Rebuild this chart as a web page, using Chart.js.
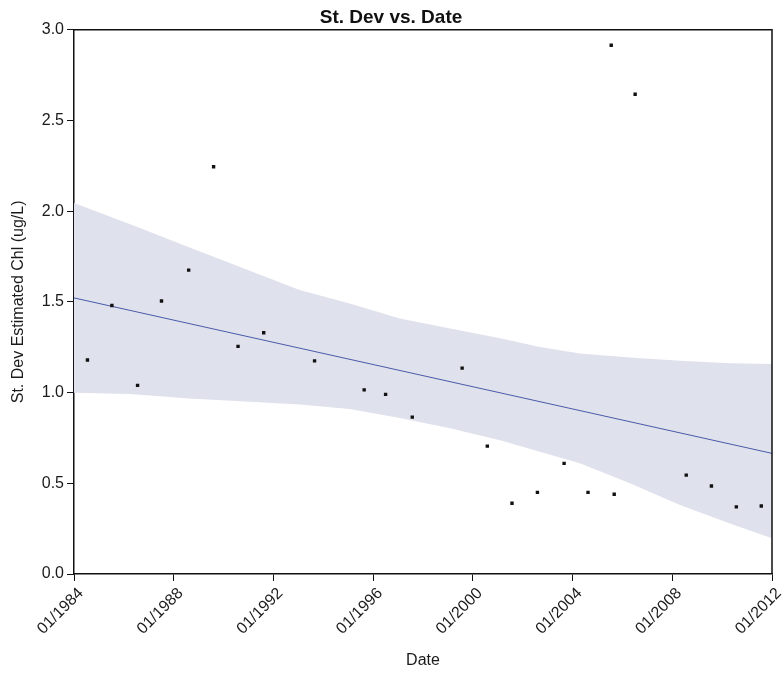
<!DOCTYPE html>
<html>
<head>
<meta charset="utf-8">
<title>St. Dev vs. Date</title>
<script src="https://cdn.jsdelivr.net/npm/chart.js@4.4.1/dist/chart.umd.min.js"></script>
<style>
  html, body { margin: 0; padding: 0; background: #fff; }
  #stdevChart { display: block; }
</style>
</head>
<body>
<canvas id="stdevChart" width="782" height="673"></canvas>
<script>
// sampling dates (decimal years) and their st. dev of estimated chl
const sampleYears = [1984.54, 1985.52, 1986.55, 1987.51, 1988.60, 1989.60, 1990.58, 1991.61,
  1993.65, 1995.64, 1996.50, 1997.57, 1999.57, 2000.58, 2001.57, 2002.59, 2003.66, 2004.62,
  2005.55, 2005.67, 2006.51, 2008.56, 2009.57, 2010.57, 2011.57];
const stDevValues = [1.18, 1.48, 1.04, 1.505, 1.675, 2.245, 1.255, 1.33,
  1.175, 1.015, 0.99, 0.865, 1.135, 0.705, 0.39, 0.45, 0.61, 0.45,
  2.915, 0.44, 2.645, 0.545, 0.485, 0.37, 0.375];

// linear trend
const trendYears = [1984, 2012];
const trendValues = [1.522, 0.665];

// confidence band around the trend
const bandYears = [1984, 1986.23, 1988.64, 1991.05, 1993.05, 1995.06, 1997.07, 1999.09,
  2001.09, 2002.69, 2004.29, 2006.30, 2008.31, 2010.31, 2012];
const bandUpper = [2.045, 1.93, 1.80, 1.672, 1.565, 1.491, 1.409, 1.354,
  1.299, 1.252, 1.216, 1.194, 1.175, 1.162, 1.157];
const bandLower = [0.999, 0.992, 0.968, 0.949, 0.934, 0.909, 0.860, 0.804,
  0.738, 0.674, 0.61, 0.50, 0.38, 0.279, 0.197];

const xTicks = [1984, 1988, 1992, 1996, 2000, 2004, 2008, 2012];
const yTicks = [0, 0.5, 1.0, 1.5, 2.0, 2.5, 3.0];

const pairs = (xs, ys) => xs.map((x, i) => ({ x: x, y: ys[i] }));

const fontFamily = '"Liberation Sans", Arial, sans-serif';
const inkColor = '#1a1a1a';

// closes the plot box on the top and right
const frame = {
  id: 'frame',
  afterDraw(chart) {
    const { ctx, chartArea: a } = chart;
    ctx.save();
    ctx.strokeStyle = '#111';
    ctx.lineWidth = 1.5;
    ctx.beginPath();
    ctx.moveTo(a.left, a.top);
    ctx.lineTo(a.right, a.top);
    ctx.lineTo(a.right, a.bottom);
    ctx.stroke();
    ctx.restore();
  }
};

const ctx = document.getElementById('stdevChart');

new Chart(ctx, {
  type: 'scatter',
  data: {
    datasets: [
      {
        label: 'St. Dev',
        data: pairs(sampleYears, stDevValues),
        pointStyle: 'rect',
        pointRadius: 2.4,
        pointBorderWidth: 0,
        pointBackgroundColor: '#111',
        showLine: false
      },
      {
        label: 'Trend',
        data: pairs(trendYears, trendValues),
        showLine: true,
        borderColor: '#4a5aa8',
        borderWidth: 1,
        pointRadius: 0,
        fill: false
      },
      {
        label: 'Lower',
        data: pairs(bandYears, bandLower),
        showLine: true,
        borderWidth: 0,
        borderColor: 'rgba(0,0,0,0)',
        pointRadius: 0,
        fill: false
      },
      {
        label: 'Upper',
        data: pairs(bandYears, bandUpper),
        showLine: true,
        borderWidth: 0,
        borderColor: 'rgba(0,0,0,0)',
        backgroundColor: '#dfe1ec',
        pointRadius: 0,
        fill: '-1'
      }
    ]
  },
  options: {
    responsive: false,
    animation: false,
    layout: { padding: 0 },
    plugins: {
      legend: { display: false },
      tooltip: { enabled: false },
      title: {
        display: true,
        text: 'St. Dev vs. Date',
        color: '#111',
        font: { family: fontFamily, size: 19, weight: 'bold' },
        padding: { top: 6, bottom: 1 }
      }
    },
    scales: {
      x: {
        type: 'linear',
        min: 1984,
        max: 2012,
        afterBuildTicks: (scale) => { scale.ticks = xTicks.map(v => ({ value: v })); },
        afterFit: (scale) => {
          scale.height = 99;
          scale.paddingRight = 10;
          scale.paddingLeft = 0;
        },
        border: { display: true, color: '#111', width: 1.5 },
        grid: { display: true, drawOnChartArea: false, drawTicks: true, tickLength: 7, color: '#111' },
        ticks: {
          color: inkColor,
          font: { family: fontFamily, size: 16 },
          minRotation: 45,
          maxRotation: 45,
          padding: 3,
          labelOffset: 7,
          callback: (v) => '01/' + v
        },
        title: {
          display: true,
          text: 'Date',
          color: inkColor,
          font: { family: fontFamily, size: 16 },
          padding: { top: 0, bottom: 3 }
        }
      },
      y: {
        min: 0,
        max: 3,
        afterBuildTicks: (scale) => { scale.ticks = yTicks.map(v => ({ value: v })); },
        afterFit: (scale) => { scale.width = 74; },
        border: { display: true, color: '#111', width: 1.5 },
        grid: { display: true, drawOnChartArea: false, drawTicks: true, tickLength: 7, color: '#111' },
        ticks: {
          color: inkColor,
          font: { family: fontFamily, size: 16 },
          padding: 3,
          callback: (v) => v.toFixed(1)
        },
        title: {
          display: true,
          text: 'St. Dev Estimated Chl (ug/L)',
          color: inkColor,
          font: { family: fontFamily, size: 16 },
          padding: { top: 9, bottom: 0 }
        }
      }
    }
  },
  plugins: [frame]
});
</script>
</body>
</html>
